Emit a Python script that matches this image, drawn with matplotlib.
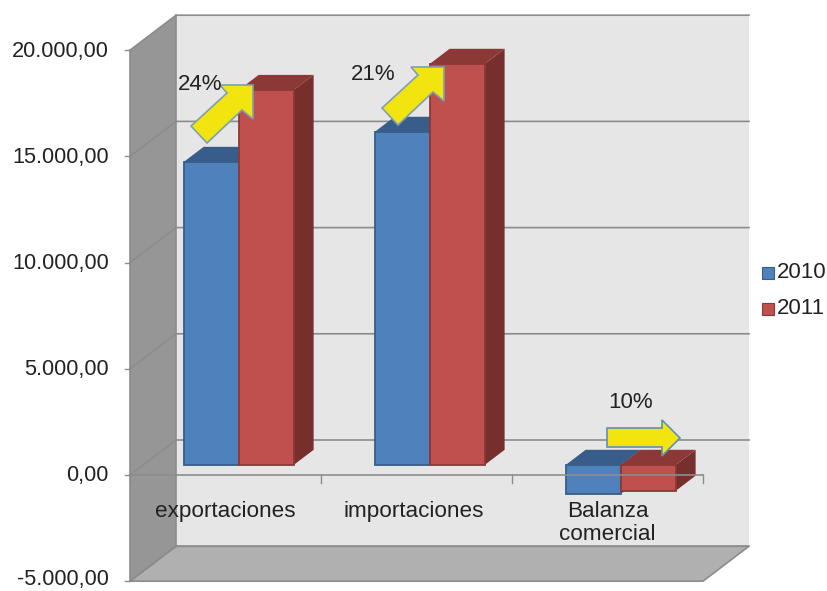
import matplotlib
matplotlib.use("Agg")
import matplotlib.pyplot as plt
from matplotlib.patches import Polygon, Rectangle

plt.rcParams["font.family"] = ["Liberation Sans", "DejaVu Sans"]

# Datos
categorias = ["exportaciones", "importaciones", "Balanza\ncomercial"]
serie_2010 = [14265, 15680, -1370]
serie_2011 = [17650, 18880, -1220]
ticks = [-5000, 0, 5000, 10000, 15000, 20000]
tick_labels = ["-5.000,00", "0,00", "5.000,00", "10.000,00", "15.000,00", "20.000,00"]
porcentajes = ["24%", "21%", "10%"]

W, H = 828, 591
PX_X = 191.0            # pixeles por categoria
PX_Y = 106.2 / 5000     # pixeles por unidad
X0_PX, Y0_PX = 225.5, 475.0
DEPTH_X, DEPTH_Y = 46 / PX_X, 35 / PX_Y   # fondo del grafico 3D

C_BLUE, C_BLUE_TOP = "#4f81bd", "#385d8a"
C_RED, C_RED_TOP, C_RED_SIDE = "#c0504d", "#8c3836", "#772f2d"
C_LINE = "#8c8c8c"
C_TEXT = "#222222"

fig = plt.figure(figsize=(W / 100, H / 100), dpi=100)
ax = fig.add_axes([0, 0, 1, 1])
ax.set_xlim(-X0_PX / PX_X, (W - X0_PX) / PX_X)
ax.set_ylim((Y0_PX - H) / PX_Y, Y0_PX / PX_Y)
ax.axis("off")


def proj(x, v, d=0.0):
    # d = 0 plano frontal, d = 1 pared del fondo
    return (x + d * DEPTH_X, v + d * DEPTH_Y)


x_min, x_max = -0.5, 2.5
v_min, v_max = ticks[0], ticks[-1]

# paredes
ax.add_patch(Polygon([proj(x_min, v_min, 1), proj(x_max, v_min, 1), proj(x_max, v_max, 1), proj(x_min, v_max, 1)],
                     fc="#e6e6e6", ec="none", zorder=1))
ax.add_patch(Polygon([proj(x_min, v_min, 0), proj(x_min, v_min, 1), proj(x_min, v_max, 1), proj(x_min, v_max, 0)],
                     fc="#969696", ec="none", zorder=1))
ax.add_patch(Polygon([proj(x_min, v_min, 0), proj(x_max, v_min, 0), proj(x_max, v_min, 1), proj(x_min, v_min, 1)],
                     fc="#b0b0b0", ec=C_LINE, lw=1.2, zorder=1.5))

# rejilla
for t, lab in zip(ticks, tick_labels):
    xs, ys = zip(proj(x_min, t, 0), proj(x_min, t, 1), proj(x_max, t, 1))
    ax.plot(xs, ys, color=C_LINE, lw=1.2, zorder=2, solid_joinstyle="miter")
    ax.plot([x_min - 5 / PX_X, x_min], [t, t], color=C_LINE, lw=1.0, zorder=2)
    # la ultima etiqueta sube un poco para no cortarse abajo
    shift = 1 if t > v_min else -2
    ax.text(x_min - 21 / PX_X, t - shift / PX_Y, lab, ha="right", va="center", fontsize=15.7, color=C_TEXT, zorder=6)
ax.plot([x_min, x_min], [v_min, v_max], color=C_LINE, lw=1.2, zorder=2)
xs, ys = zip(proj(x_min, v_max, 1), proj(x_min, v_min, 1))
ax.plot(xs, ys, color=C_LINE, lw=1.2, zorder=2)

# barras 3D
BAR_W = 55 / PX_X
D0, D1 = 0.285, 0.72


def bar3d(x_left, val, col, col_top, col_side, z):
    ax.bar(x_left + D0 * DEPTH_X, val, width=BAR_W, bottom=D0 * DEPTH_Y, align="edge",
           color=col, edgecolor=col_top, linewidth=1.3, zorder=z + 0.2)
    base = max(val, 0)
    ax.add_patch(Polygon([proj(x_left, base, D0), proj(x_left + BAR_W, base, D0),
                          proj(x_left + BAR_W, base, D1), proj(x_left, base, D1)],
                         fc=col_top, ec="none", zorder=z + 0.1))
    ax.add_patch(Polygon([proj(x_left + BAR_W, 0, D0), proj(x_left + BAR_W, val, D0),
                          proj(x_left + BAR_W, val, D1), proj(x_left + BAR_W, 0, D1)],
                         fc=col_side, ec="none", zorder=z))


for i in range(len(categorias)):
    bar3d(i - BAR_W, serie_2010[i], C_BLUE, C_BLUE_TOP, C_BLUE_TOP, 3 + i)
    bar3d(i, serie_2011[i], C_RED, C_RED_TOP, C_RED_SIDE, 3.5 + i)

# eje de categorias
ax.plot([x_min, x_max], [0, 0], color=C_LINE, lw=1.2, zorder=7)
for i in range(len(categorias) + 1):
    ax.plot([x_min + i, x_min + i], [0, -8 / PX_Y], color=C_LINE, lw=1.0, zorder=7)

label_dx = [0, -2.5, 0]
label_y = [511, 511, 523]
for i, cat in enumerate(categorias):
    ax.text(i + label_dx[i] / PX_X, (Y0_PX - label_y[i]) / PX_Y, cat, ha="center", va="center", fontsize=16.2,
            color=C_TEXT, linespacing=1.17, zorder=8)

# flechas y porcentajes, en pixeles
over = fig.add_axes([0, 0, 1, 1], facecolor="none")
over.set_xlim(0, W)
over.set_ylim(H, 0)
over.axis("off")

flecha = [(253, 85), (220, 85), (227, 93), (191, 126), (207, 143), (242, 110), (253, 119)]
for dx, dy in [(0, 0), (191, -18)]:
    pts = [(x + dx, y + dy) for x, y in flecha]
    over.add_patch(Polygon(pts, fc="#f2e40e", ec="#7f9fb5", lw=1.2, joinstyle="miter"))
over.add_patch(Polygon([(607, 428), (607, 447), (662, 447), (662, 456), (680, 438), (662, 420), (662, 428)],
                       fc="#f2e40e", ec="#5f8fb5", lw=1.2, joinstyle="miter"))

for (x, y), txt in zip([(200, 85), (373, 74), (631, 403)], porcentajes):
    over.text(x, y, txt, ha="center", va="center", fontsize=16, color=C_TEXT)

# leyenda
over.add_patch(Rectangle((762, 267), 12, 12, fc=C_BLUE, ec=C_BLUE_TOP, lw=0.8))
over.add_patch(Rectangle((762, 303), 12, 12, fc=C_RED, ec=C_RED_TOP, lw=0.8))
over.text(777, 272, "2010", va="center", fontsize=16, color=C_TEXT)
over.text(777, 309, "2011", va="center", fontsize=16, color=C_TEXT)

fig.savefig("out.png", dpi=100, facecolor="white")
